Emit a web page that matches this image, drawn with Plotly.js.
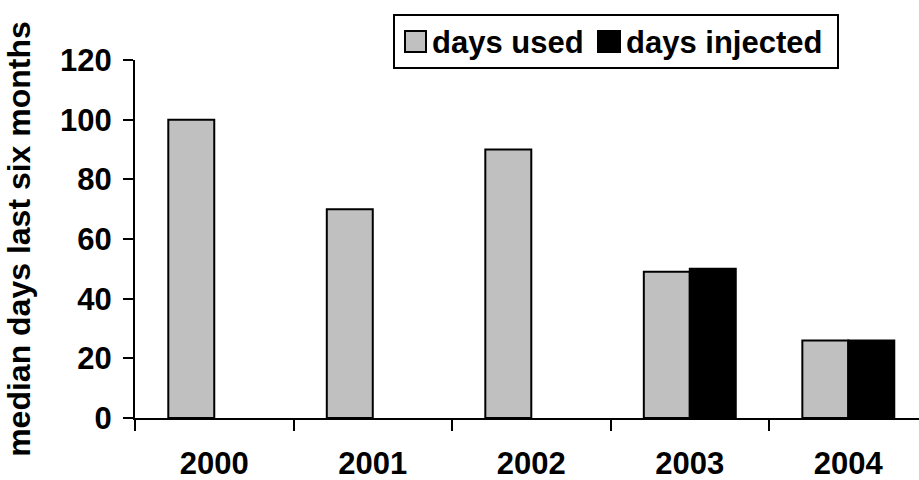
<!DOCTYPE html>
<html>
<head>
<meta charset="utf-8">
<script src="https://cdn.plot.ly/plotly-3.0.1.min.js"></script>
<style>html,body{margin:0;padding:0;background:#fff;}#chart{width:919px;height:480px;}</style>
</head>
<body>
<div id="chart"></div>
<script>
const years = ['2000', '2001', '2002', '2003', '2004'];
const seriesNames = ['days used', 'days injected'];
const daysUsed = [100, 70, 90, 49, 26];
const daysInjected = [null, null, null, 50, 26];
const yTicks = [0, 20, 40, 60, 80, 100, 120];
const yTitle = 'median days last six months';

const FONT = 'Liberation Sans, Arial, sans-serif';
const colors = ['#c0c0c0', '#000000'];

const traces = [
  {type: 'bar', x: years, y: daysUsed, name: seriesNames[0],
   marker: {color: colors[0], line: {color: '#000', width: 2}}},
  {type: 'bar', x: years, y: daysInjected, name: seriesNames[1],
   marker: {color: colors[1], line: {color: '#000', width: 2}}}
];

// legend geometry (pixels -> paper)
const L = 135, R = 919, T = 60, B = 418;
const px = v => (v - L) / (R - L);
const py = v => (B - v) / (B - T);

const shapes = [
  {type: 'rect', xref: 'paper', yref: 'paper', x0: px(394), x1: px(838), y0: py(68), y1: py(15),
   line: {color: '#000', width: 2}, fillcolor: '#fff'},
  {type: 'rect', xref: 'paper', yref: 'paper', x0: px(405), x1: px(426), y0: py(52), y1: py(31),
   line: {color: '#000', width: 2}, fillcolor: colors[0]},
  {type: 'rect', xref: 'paper', yref: 'paper', x0: px(598), x1: px(620), y0: py(52), y1: py(31),
   line: {color: '#000', width: 2}, fillcolor: colors[1]}
];
const annotations = [
  {xref: 'paper', yref: 'paper', x: px(430), y: py(42), xanchor: 'left', yanchor: 'middle',
   text: '<b>' + seriesNames[0] + '</b>', showarrow: false, font: {family: FONT, size: 31, color: '#000'}},
  {xref: 'paper', yref: 'paper', x: px(624), y: py(42), xanchor: 'left', yanchor: 'middle',
   text: '<b>' + seriesNames[1] + '</b>', showarrow: false, font: {family: FONT, size: 31, color: '#000'}}
];

const layout = {
  width: 919, height: 480,
  margin: {l: L, r: 919 - R, t: T, b: 480 - B, pad: 0},
  paper_bgcolor: '#fff', plot_bgcolor: '#fff',
  showlegend: false,
  barmode: 'group', bargap: 0.42, bargroupgap: 0,
  font: {family: FONT, color: '#000'},
  xaxis: {
    type: 'category', range: [-0.5, 4.446], tickson: 'boundaries',
    ticks: 'outside', ticklen: 11, tickwidth: 2, tickcolor: '#000',
    showline: true, linecolor: '#000', linewidth: 2, showgrid: false, zeroline: false,
    tickfont: {family: FONT, size: 31, color: '#000', weight: 'bold'},
    ticklabelstandoff: 17, automargin: false
  },
  yaxis: {
    range: [0, 120], tickvals: yTicks, ticktext: yTicks.map(String),
    ticks: 'outside', ticklen: 10, tickwidth: 2, tickcolor: '#000',
    showline: true, linecolor: '#000', linewidth: 2, showgrid: false, zeroline: false,
    tickfont: {family: FONT, size: 31, color: '#000', weight: 'bold'},
    ticklabelstandoff: 5,
    title: {text: '<b>' + yTitle + '</b>', font: {family: FONT, size: 32, color: '#000'}, standoff: 20},
    automargin: false
  },
  shapes: shapes,
  annotations: annotations
};

Plotly.newPlot('chart', traces, layout, {displayModeBar: false, staticPlot: true});
</script>
</body>
</html>
